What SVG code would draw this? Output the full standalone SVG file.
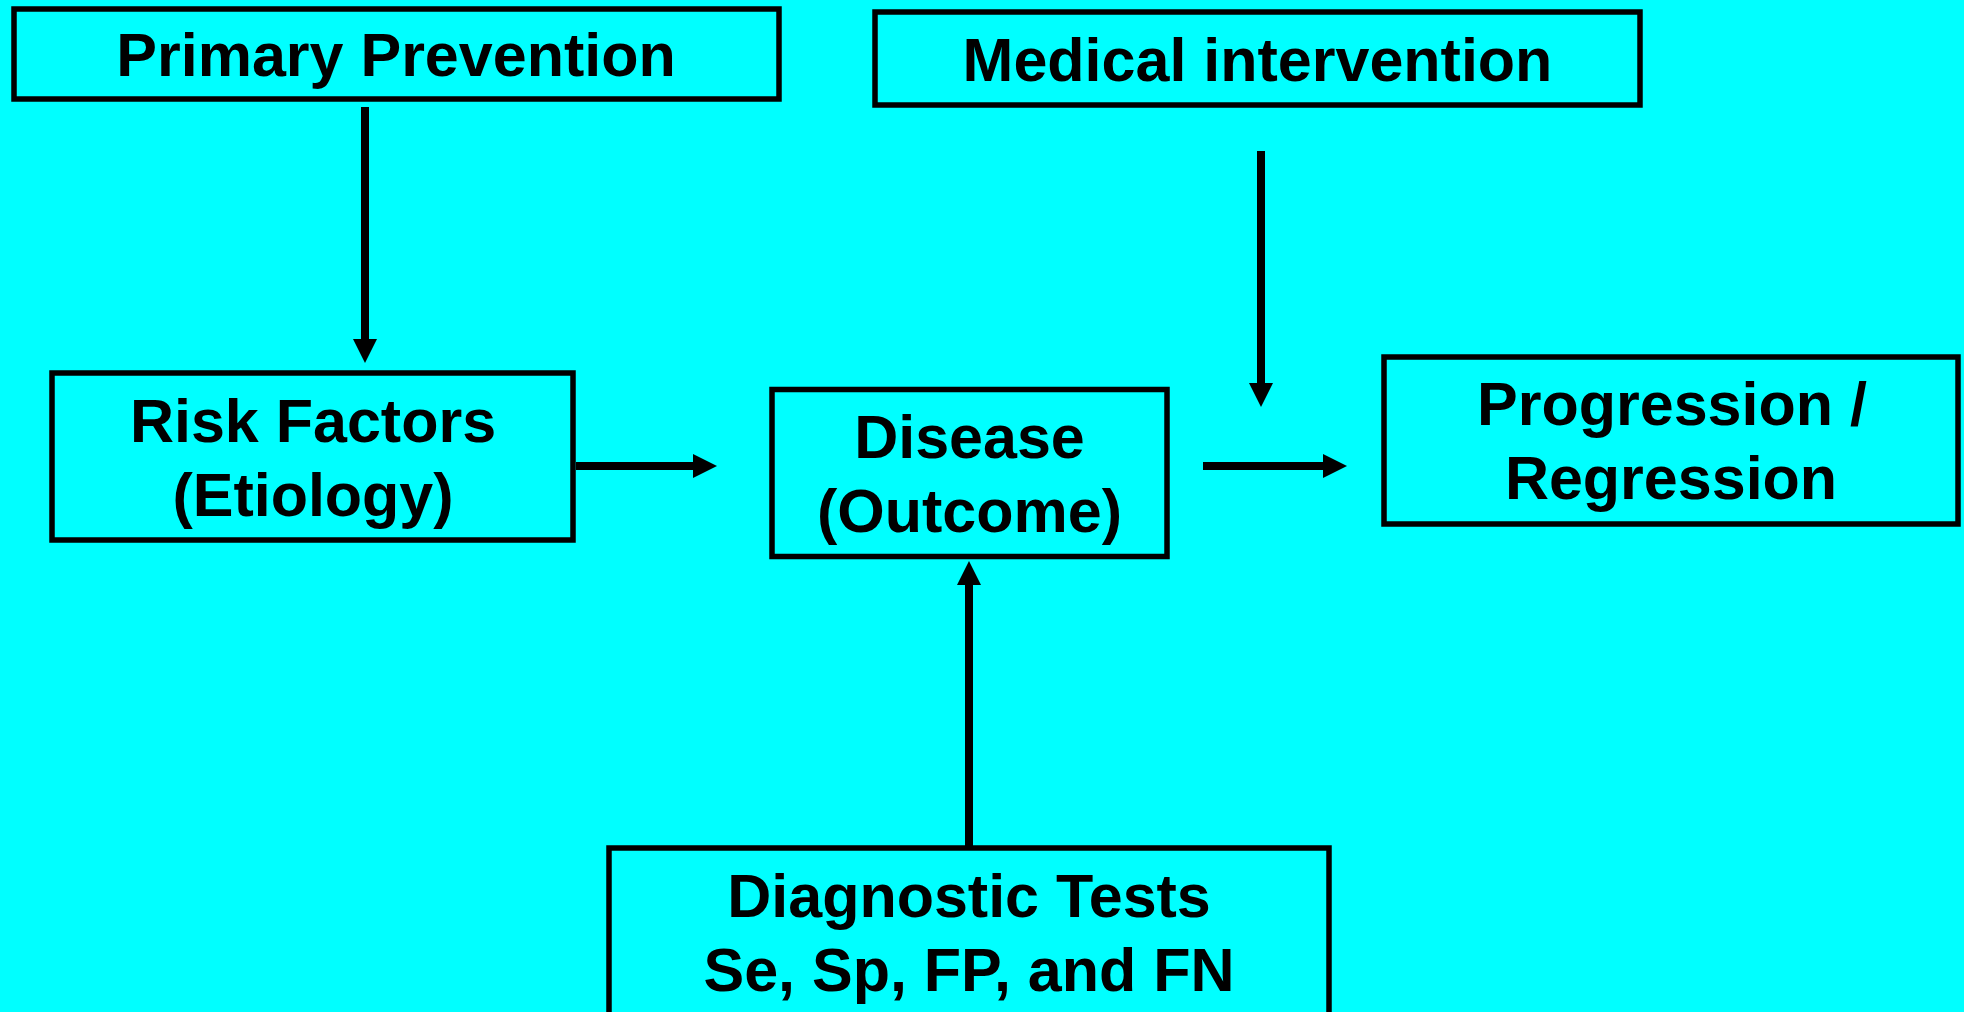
<svg xmlns="http://www.w3.org/2000/svg" width="1964" height="1012" viewBox="0 0 1964 1012">
  <style>
    .box { fill: #00FFFF; stroke: #000000; stroke-width: 5.5; }
    .lbl { font-family: "Liberation Sans", Arial, sans-serif; font-weight: bold; font-size: 61px; fill: #000000; text-anchor: middle; }
    .conn { stroke: #000000; stroke-width: 8; fill: none; marker-end: url(#head); }
  </style>
  <defs>
    <marker id="head" viewBox="0 0 24 24" markerWidth="24" markerHeight="24" refX="1" refY="12" orient="auto" markerUnits="userSpaceOnUse">
      <path d="M0,0 L24,12 L0,24 Z" fill="#000000"/>
    </marker>
  </defs>
  <rect x="0" y="0" width="1964" height="1012" fill="#00FFFF"/>

  <g id="primary-prevention">
    <rect class="box" x="14" y="9" width="765" height="90"/>
    <text class="lbl" x="396" y="76">Primary Prevention</text>
  </g>

  <g id="medical-intervention">
    <rect class="box" x="875" y="12" width="765" height="93"/>
    <text class="lbl" x="1257.5" y="81">Medical intervention</text>
  </g>

  <g id="risk-factors">
    <rect class="box" x="52" y="373" width="521" height="167"/>
    <text class="lbl" x="313" y="442">Risk Factors</text>
    <text class="lbl" x="313" y="516">(Etiology)</text>
  </g>

  <g id="disease">
    <rect class="box" x="772" y="389.5" width="395" height="167"/>
    <text class="lbl" x="969.5" y="458">Disease</text>
    <text class="lbl" x="969.5" y="532">(Outcome)</text>
  </g>

  <g id="progression">
    <rect class="box" x="1384" y="357" width="574" height="167"/>
    <text class="lbl" x="1672" y="425">Progression /</text>
    <text class="lbl" x="1671" y="499">Regression</text>
  </g>

  <g id="diagnostic-tests">
    <rect class="box" x="609" y="848" width="720" height="200"/>
    <text class="lbl" x="969" y="917">Diagnostic Tests</text>
    <text class="lbl" x="969" y="991">Se, Sp, FP, and FN</text>
  </g>

  <g id="connectors">
    <line class="conn" x1="365" y1="107" x2="365" y2="340"/>
    <line class="conn" x1="1261" y1="151" x2="1261" y2="384"/>
    <line class="conn" x1="576" y1="466" x2="694" y2="466"/>
    <line class="conn" x1="1203" y1="466" x2="1324" y2="466"/>
    <line class="conn" x1="969" y1="846" x2="969" y2="584"/>
  </g>
</svg>
